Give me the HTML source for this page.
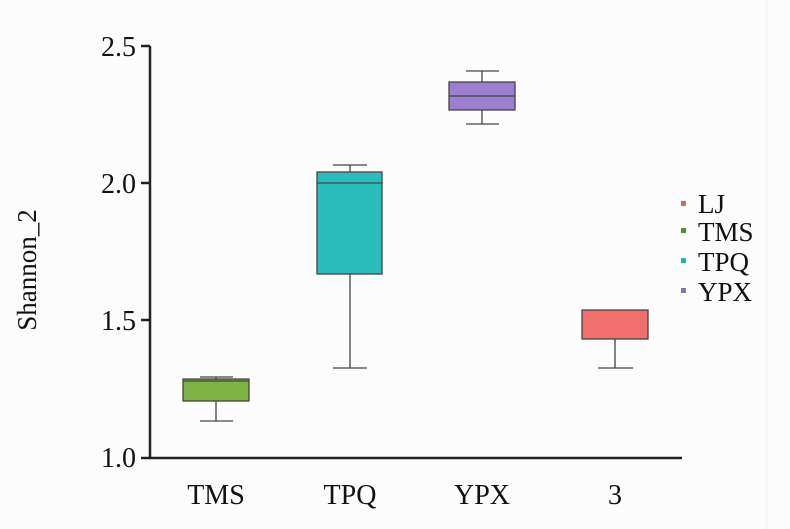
<!DOCTYPE html>
<html><head><meta charset="utf-8"><style>
body{margin:0;background:#fcfcfc;}
svg{display:block;}
svg text{font-family:"Liberation Serif","Times New Roman",Times,"Noto Serif CJK SC","DejaVu Serif",serif !important;}
</style></head><body>
<svg width="790" height="529" viewBox="0 0 790 529">
<rect width="790" height="529" fill="#fcfcfc"/>
<line x1="767" y1="0" x2="767" y2="529" stroke="#f0f0f0" stroke-width="1"/>
<g stroke="#222" stroke-width="2.5" fill="none">
<line x1="150" y1="46" x2="150" y2="459"/>
<line x1="149" y1="458" x2="682" y2="458"/>
<line x1="141" y1="46" x2="150" y2="46"/>
<line x1="141" y1="183" x2="150" y2="183"/>
<line x1="141" y1="320" x2="150" y2="320"/>
<line x1="141" y1="458" x2="150" y2="458"/>
</g>
<g font-size="28" fill="#111" text-anchor="end">
<text x="136" y="56">2.5</text>
<text x="136" y="193">2.0</text>
<text x="136" y="330">1.5</text>
<text x="136" y="467">1.0</text>
</g>
<text transform="translate(36,270) rotate(-90)" font-size="27" text-anchor="middle" fill="#111">Shannon_2</text>
<g font-size="28" fill="#111" text-anchor="middle">
<text x="216" y="504">TMS</text>
<text x="350" y="504">TPQ</text>
<text x="482" y="504">YPX</text>
<text x="615" y="504">3</text>
</g>
<g stroke="#444" stroke-width="1.3">
<line x1="216" y1="377" x2="216" y2="421"/><line x1="200" y1="377" x2="233" y2="377"/><line x1="200" y1="421" x2="233" y2="421"/>
<rect x="183" y="379" width="66" height="22" fill="#7cb342"/><line x1="183" y1="381" x2="249" y2="381"/>
<line x1="350" y1="165" x2="350" y2="368"/><line x1="333" y1="165" x2="367" y2="165"/><line x1="333" y1="368" x2="367" y2="368"/>
<rect x="317" y="172" width="65" height="102" fill="#2bbcbc"/><line x1="317" y1="183" x2="382" y2="183"/>
<line x1="482" y1="71" x2="482" y2="124"/><line x1="466" y1="71" x2="499" y2="71"/><line x1="466" y1="124" x2="499" y2="124"/>
<rect x="449" y="82" width="66" height="28" fill="#9b7fd0"/><line x1="449" y1="96" x2="515" y2="96"/>
<line x1="615" y1="339" x2="615" y2="368"/><line x1="598" y1="368" x2="633" y2="368"/>
<rect x="582" y="310" width="66" height="29" fill="#f07070"/>
</g>
<g font-size="27" fill="#111">
<rect x="681" y="201" width="5" height="5" fill="#e06060"/><text x="698" y="213">LJ</text>
<rect x="681" y="228" width="5" height="5" fill="#5a8a30"/><text x="698" y="241">TMS</text>
<rect x="681" y="258" width="5" height="5" fill="#2bb0b0"/><text x="698" y="271">TPQ</text>
<rect x="681" y="288" width="5" height="5" fill="#8a6fc0"/><text x="698" y="301">YPX</text>
</g>
</svg>
</body></html>
